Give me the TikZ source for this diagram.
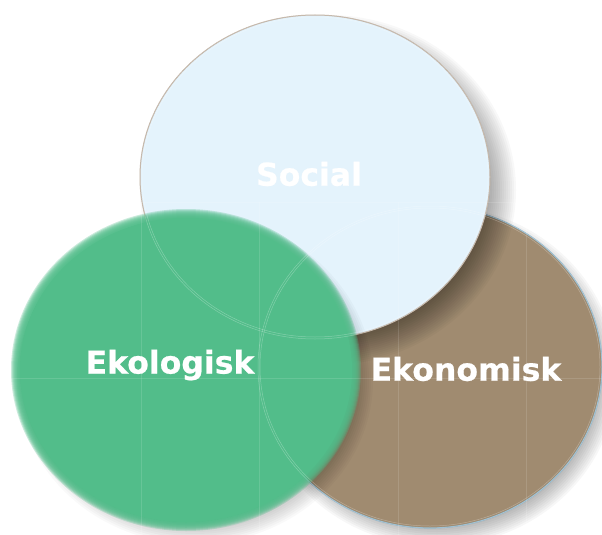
\documentclass[tikz,border=0pt]{standalone}
\usepackage{fontspec}
\setmainfont{DejaVu Sans}
\newfontfamily\lblfont{DejaVu Sans Bold}[FakeBold=0.6]
\definecolor{socfill}{HTML}{E4F3FC}
\definecolor{socline}{HTML}{B9A999}
\definecolor{ekofill}{HTML}{52BD8A}
\definecolor{brfill}{HTML}{A08B70}
\definecolor{brline}{HTML}{8DB3C7}
\tikzset{
  lbl/.style={text=white,font=\fontsize{31.5}{38}\lblfont,inner sep=0pt},
  faint/.style={white,opacity=0.28,line width=0.5pt},
  gridl/.style={white,opacity=0.12,line width=0.5pt}
}
\newcommand\blurfill[7]{%
  \foreach \r [evaluate=\r as \a using #3+\r, evaluate=\r as \b using #4+\r] in {#7}{
    \fill[#5,opacity=#6] (#1,#2) ellipse [x radius=\a pt, y radius=\b pt];}}
\begin{document}
\begin{tikzpicture}[x=1pt,y=-1pt]
\useasboundingbox (0,0) rectangle (602,535);
% Ekonomisk (back)
\blurfill{437}{376}{170}{160}{black}{0.03}{-10,-8,...,10}
\fill[brfill] (430,367) ellipse [x radius=172pt, y radius=161pt];
\draw[brline,line width=1.2pt] (430,367) ellipse [x radius=172pt, y radius=161pt];
% Social
\blurfill{328}{190}{172}{159}{black}{0.028}{-16,-14,...,16}
\fill[socfill] (315,177) ellipse [x radius=175pt, y radius=162pt];
\draw[socline,line width=1pt] (315,177) ellipse [x radius=175pt, y radius=162pt];
% Ekologisk (front)
\blurfill{195}{380}{168}{154}{black}{0.025}{-10,-8,...,10}
\blurfill{186}{370}{170}{156}{ekofill}{0.3}{-5,-4,...,5}
\fill[ekofill] (186,370) ellipse [x radius=166pt, y radius=152pt];
% faint outlines
\draw[faint] (315,177) ellipse [x radius=175pt, y radius=162pt];
\draw[faint] (315,177) ellipse [x radius=173pt, y radius=160pt];
\draw[faint] (430,367) ellipse [x radius=172pt, y radius=161pt];
\draw[faint] (430,367) ellipse [x radius=170pt, y radius=159pt];
% faint slicing lines
\foreach \gx in {141,259,398,526}{\draw[gridl] (\gx,202) -- (\gx,535);}
\draw[gridl] (141,202) -- (602,202);
\draw[gridl] (0,378) -- (602,378);
% labels
\node[lbl] (social) at (309,174) {Social};
\node[lbl] (ekologisk) at (170,365) {Ekologisk};
\node[lbl] (ekonomisk) at (466,369) {Ekonomisk};
\end{tikzpicture}
\end{document}
